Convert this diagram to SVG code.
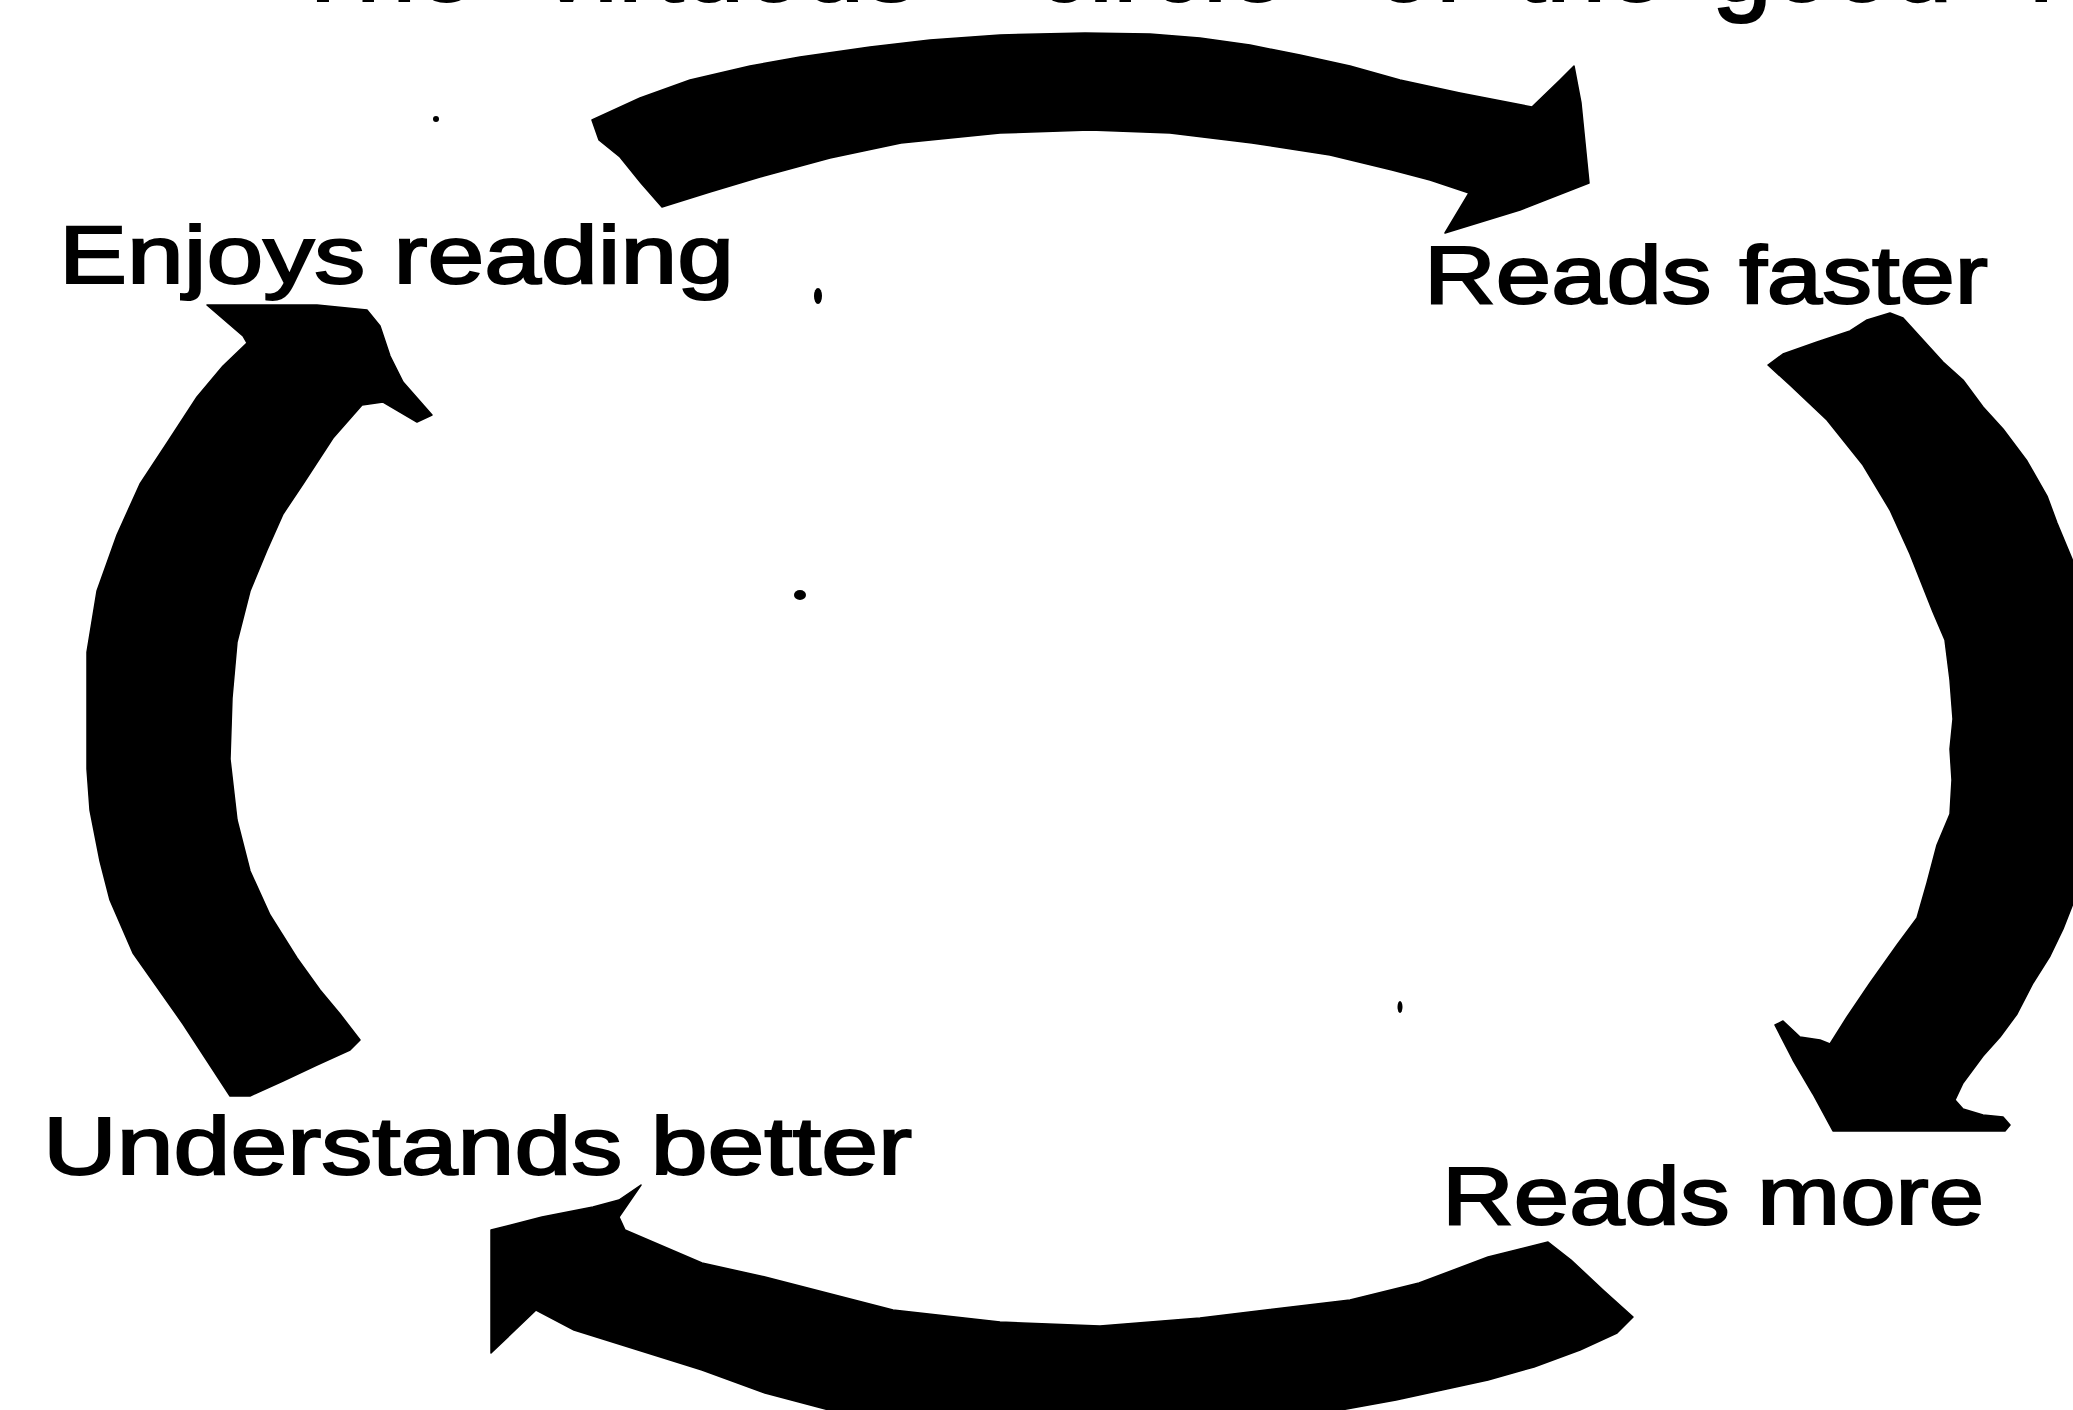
<svg xmlns="http://www.w3.org/2000/svg" width="2073" height="1410" viewBox="0 0 2073 1410">
<style>
.bg{fill:#ffffff}
.arrow{fill:#000000;stroke:#000000;stroke-width:1.5px;stroke-linejoin:round}
.label{font-family:"Liberation Sans",Arial,sans-serif;font-size:81px;font-weight:400;fill:#000;stroke:#000;stroke-width:2px}
.title{font-family:"Liberation Sans",Arial,sans-serif;font-size:108px;font-weight:400;fill:#000;stroke:#000;stroke-width:2px}
.speck{fill:#000}
</style>
<rect class="bg" x="0" y="0" width="2073" height="1410"/>
<g id="title">
<text class="title" y="1"><tspan x="290">The</tspan><tspan x="540">virtuous</tspan><tspan x="1035">circle</tspan><tspan x="1374">of</tspan><tspan x="1516">the</tspan><tspan x="1712">good</tspan><tspan x="2029">reader</tspan></text>
</g>
<g id="connectors">
<path id="arrow-top" class="arrow" d="M592,120 L640,98 L690,80 L750,66 L800,57 L870,47 L930,40 L1000,35 L1085,33 L1150,34 L1200,38 L1250,45 L1300,55 L1350,66 L1400,80 L1460,93 L1532,107 L1560,80 L1574,66 L1581,103 L1589,183 L1520,210 L1445,233 L1469,193 L1430,180 L1392,170 L1330,155 L1252,143 L1170,133 L1090,130 L1000,133 L901,143 L830,158 L760,177 L710,192 L662,207 L641,183 L620,157 L599,140 Z"/>
<path id="arrow-right" class="arrow" d="M1768,365 L1783,354 L1817,342 L1850,331 L1867,320 L1890,313 L1903,318 L1923,340 L1943,362 L1963,380 L1983,407 L2003,429 L2027,461 L2047,496 L2057,523 L2072,559 L2090,620 L2100,730 L2095,850 L2072,906 L2063,929 L2050,956 L2033,983 L2017,1014 L2000,1037 L1983,1056 L1963,1083 L1955,1100 L1963,1109 L1983,1115 L2003,1117 L2010,1125 L2005,1131 L1833,1131 L1813,1094 L1793,1060 L1775,1025 L1783,1021 L1800,1037 L1820,1040 L1830,1044 L1847,1017 L1870,983 L1897,945 L1917,918 L1927,883 L1937,845 L1950,814 L1952,780 L1950,749 L1953,719 L1950,680 L1945,640 L1933,612 L1910,554 L1890,510 L1863,465 L1827,420 L1790,385 Z"/>
<path id="arrow-bottom" class="arrow" d="M1548,1242 L1571,1260 L1603,1290 L1633,1317 L1617,1333 L1580,1350 L1534,1367 L1488,1380 L1442,1390 L1396,1400 L1330,1412 L1200,1440 L1000,1450 L850,1430 L829,1410 L765,1393 L702,1370 L638,1350 L574,1330 L536,1310 L491,1353 L491,1230 L542,1217 L593,1207 L619,1200 L641,1185 L619,1217 L625,1230 L702,1263 L765,1277 L893,1310 L1000,1322 L1100,1326 L1200,1318 L1350,1300 L1419,1283 L1488,1257 Z"/>
<path id="arrow-left" class="arrow" d="M207,305 L317,305 L367,310 L380,326 L390,356 L403,382 L432,415 L417,422 L400,412 L383,402 L362,405 L333,438 L303,484 L283,514 L267,550 L250,591 L237,642 L232,698 L230,759 L237,820 L250,871 L270,915 L297,958 L320,990 L340,1014 L360,1040 L350,1050 L317,1065 L283,1081 L250,1096 L230,1096 L183,1024 L133,953 L110,900 L100,861 L90,810 L87,769 L87,700 L87,652 L97,591 L117,535 L140,484 L167,443 L197,397 L223,366 L247,343 L243,336 Z"/>
</g>
<g id="node-enjoys-reading">
<text class="label" x="59" y="283" textLength="675" lengthAdjust="spacingAndGlyphs">Enjoys reading</text>
</g>
<g id="node-reads-faster">
<text class="label" x="1424" y="303" textLength="564" lengthAdjust="spacingAndGlyphs">Reads faster</text>
</g>
<g id="node-reads-more">
<text class="label" x="1442" y="1224" textLength="542" lengthAdjust="spacingAndGlyphs">Reads more</text>
</g>
<g id="node-understands-better">
<text class="label" x="43" y="1174" textLength="869" lengthAdjust="spacingAndGlyphs">Understands better</text>
</g>
<g id="specks">
<ellipse class="speck" cx="436" cy="119" rx="3" ry="3"/>
<ellipse class="speck" cx="818" cy="296" rx="4" ry="8"/>
<ellipse class="speck" cx="800" cy="595" rx="6" ry="5"/>
<ellipse class="speck" cx="1400" cy="1007" rx="2.5" ry="6"/>
</g>
</svg>
